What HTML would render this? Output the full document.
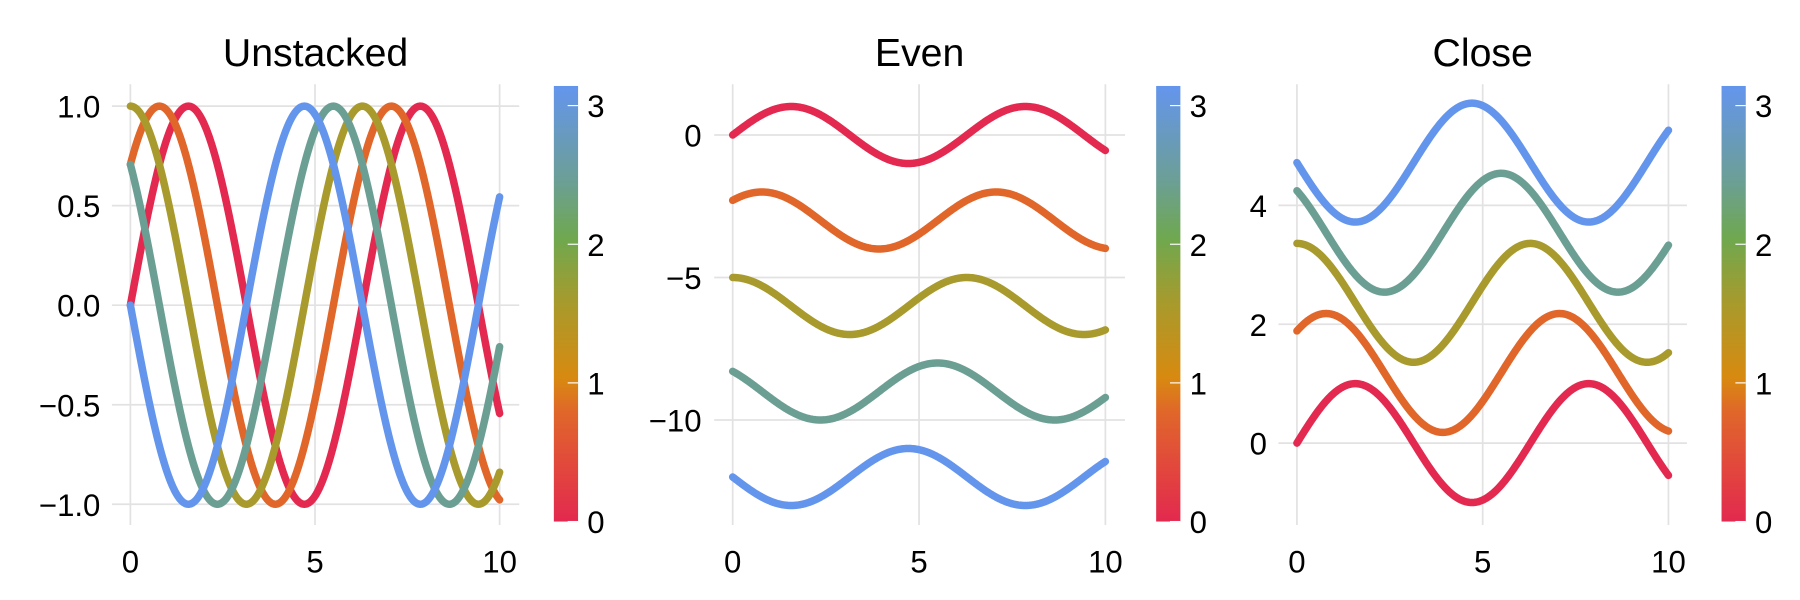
<!DOCTYPE html>
<html><head><meta charset="utf-8"><style>body{margin:0;background:#fff}svg{display:block}text{font-family:"Liberation Sans",sans-serif;fill:#000}</style></head>
<body>
<svg id="s" width="1800" height="600" viewBox="0 0 1560 520" preserveAspectRatio="none" xmlns="http://www.w3.org/2000/svg">
<defs><linearGradient id="cg" x1="0" y1="1" x2="0" y2="0">
<stop offset="0" stop-color="#e3294f"/><stop offset="0.25" stop-color="#e0662a"/><stop offset="0.33" stop-color="#d88a10"/><stop offset="0.5" stop-color="#a89a2c"/><stop offset="0.65" stop-color="#6fa84f"/><stop offset="0.78" stop-color="#6c9f94"/><stop offset="1" stop-color="#6495ed"/></linearGradient></defs>
</svg>
<script>
const s=document.getElementById('s');const NS='http://www.w3.org/2000/svg';
function el(t,a,txt){const e=document.createElementNS(NS,t);for(const k in a)e.setAttribute(k,a[k]);if(txt!==undefined)e.textContent=txt;s.appendChild(e);return e;}
const cols=['#e3294f','#e0662a','#a89a2c','#6c9f94','#6495ed'];
const panels=[
 {t:'Unstacked',px:[97,450],py:[73,455],x0:113,x10:433,yt:[[1,'1.0'],[0.5,'0.5'],[0,'0.0'],[-0.5,'−0.5'],[-1,'−1.0']],ya:172.5,yb:264.5,off:[0,0,0,0,0],cb:480,lx:87},
 {t:'Even',px:[619,975],py:[73,455],x0:635,x10:958,yt:[[0,'0'],[-5,'−5'],[-10,'−10']],ya:24.7,yb:117,off:[0,-3,-6,-9,-12],cb:1002,lx:608},
 {t:'Close',px:[1108,1462],py:[73,455],x0:1124,x10:1446,yt:[[0,'0'],[2,'2'],[4,'4']],ya:51.5,yb:384,off:[0,1.18,2.36,3.54,4.72],cb:1492,lx:1098}];
for(const p of panels){
 const X=v=>p.x0+(p.x10-p.x0)*v/10, Y=v=>p.yb-p.ya*v;
 for(const v of [0,5,10]){el('line',{x1:X(v),x2:X(v),y1:p.py[0],y2:p.py[1],stroke:'#e2e2e2','stroke-width':1.5});
  el('text',{x:X(v),y:496,'font-size':27,'text-anchor':'middle'},String(v));}
 for(const [v,l] of p.yt){el('line',{x1:p.px[0],x2:p.px[1],y1:Y(v),y2:Y(v),stroke:'#e2e2e2','stroke-width':1.5});
  el('text',{x:p.lx,y:Y(v)+10,'font-size':27,'text-anchor':'end'},l);}
 el('text',{x:(p.px[0]+p.px[1])/2,y:57,'font-size':34,'text-anchor':'middle'},p.t);
 for(let i=0;i<5;i++){const ph=i*Math.PI/4;let d='';
  for(let k=0;k<=400;k++){const x=k*10/400;d+=(k?'L':'M')+X(x).toFixed(2)+','+Y(Math.sin(x+ph)+p.off[i]).toFixed(2);}
  el('path',{d,fill:'none',stroke:cols[i],'stroke-width':6.5,'stroke-linecap':'round','stroke-linejoin':'round'});}
 el('rect',{x:p.cb,y:74.5,width:21,height:377.5,fill:'url(#cg)'});
 for(const v of [0,1,2,3]){const y=452-v/Math.PI*377.5;
  el('line',{x1:p.cb+12,x2:p.cb+21,y1:y,y2:y,stroke:'#fff','stroke-width':1});
  el('text',{x:p.cb+29,y:y+10,'font-size':27},String(v));}
}
</script>
</body></html>
